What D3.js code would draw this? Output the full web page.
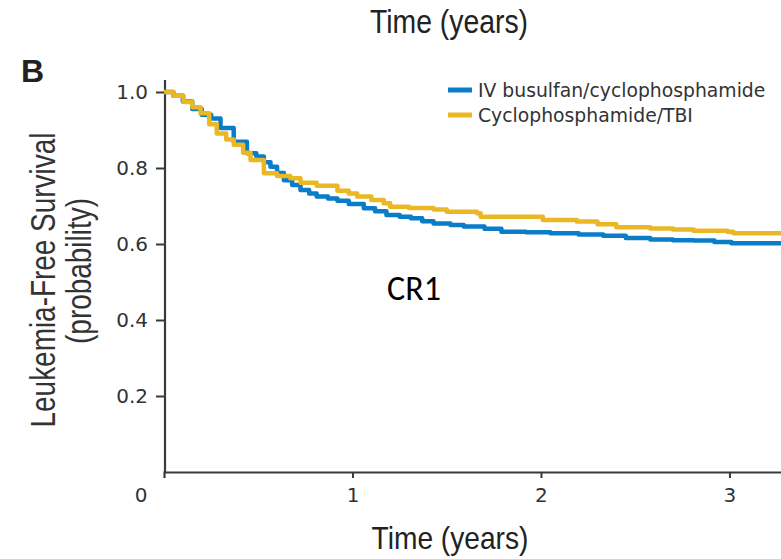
<!DOCTYPE html>
<html><head><meta charset="utf-8">
<script src="https://cdn.jsdelivr.net/npm/d3@7"></script>
<style>body{margin:0;background:#fff}svg{display:block}</style>
</head><body>
<svg id="c" width="781" height="559"></svg>
<script>
const busulfanTimes = [0,0.05,0.10,0.15,0.20,0.25,0.30,0.37,0.44,0.49,0.53,0.565,0.60,0.636,0.68,0.724,0.77,0.81,0.87,0.92,0.98,1.06,1.12,1.18,1.25,1.31,1.37,1.43,1.52,1.59,1.70,1.79,1.92,2.05,2.20,2.33,2.45,2.58,2.70,2.81,2.92,3.01,3.30];
const busulfanValues = [1.0,0.99,0.975,0.955,0.94,0.93,0.905,0.869,0.839,0.83,0.815,0.803,0.787,0.768,0.755,0.742,0.733,0.725,0.72,0.714,0.705,0.694,0.686,0.676,0.672,0.668,0.66,0.654,0.65,0.646,0.64,0.632,0.631,0.628,0.625,0.622,0.616,0.612,0.61,0.609,0.605,0.602,0.602];
const tbiTimes = [0,0.05,0.104,0.15,0.194,0.24,0.28,0.33,0.37,0.42,0.459,0.53,0.60,0.67,0.724,0.81,0.92,0.98,1.025,1.10,1.166,1.20,1.30,1.43,1.50,1.66,1.68,1.87,2.01,2.19,2.30,2.40,2.58,2.70,2.81,2.99,3.02,3.30];
const tbiValues = [1.0,0.99,0.974,0.96,0.944,0.915,0.891,0.875,0.861,0.84,0.821,0.786,0.779,0.773,0.761,0.753,0.740,0.733,0.725,0.716,0.707,0.698,0.695,0.691,0.685,0.681,0.672,0.672,0.663,0.659,0.652,0.644,0.641,0.638,0.635,0.632,0.628,0.626];
const xTicks = [0,1,2,3];
const yTicks = [0.2,0.4,0.6,0.8,1.0];
const seriesNames = ["IV busulfan/cyclophosphamide","Cyclophosphamide/TBI"];
const colors = ["#0a7dc8","#e9b824"];

const svg = d3.select("#c");
const x = d3.scaleLinear().domain([0,3.3]).range([164,786]);
const y = d3.scaleLinear().domain([0,1]).range([472,92]);
const axisColor = "#3a3a3a";
const sans = "'Liberation Sans', Arial, sans-serif";
const wide = "'DejaVu Sans', sans-serif";

// axes
const gx = svg.append("g").attr("transform","translate(0,472)")
  .call(d3.axisBottom(x).tickValues(xTicks.slice(1)).tickSize(6).tickPadding(0).tickFormat(d3.format("d")));
gx.select(".domain").attr("stroke",axisColor).attr("stroke-width",2.2);
gx.selectAll(".tick line").attr("stroke",axisColor).attr("stroke-width",2);
gx.selectAll(".tick text").attr("fill","#333").attr("font-family",wide).attr("font-size",20).attr("y",30).attr("dy",0);
gx.append("text").attr("x",x(0)-23).attr("y",30).attr("text-anchor","middle")
  .attr("fill","#333").attr("font-family",wide).attr("font-size",20).text(String(xTicks[0]));

const gy = svg.append("g").attr("transform","translate(165,0)")
  .call(d3.axisLeft(y).tickValues(yTicks).tickSize(9).tickPadding(8).tickFormat(d3.format(".1f")));
gy.select(".domain").attr("d","M0,80V472").attr("stroke",axisColor).attr("stroke-width",2.2);
gy.selectAll(".tick line").attr("stroke",axisColor).attr("stroke-width",2);
gy.selectAll(".tick text").attr("fill","#333").attr("font-family",wide).attr("font-size",20);

// curves
const line = d3.line().x(d=>x(d[0])).y(d=>y(d[1])).curve(d3.curveStepAfter);
svg.append("clipPath").attr("id","cp").append("rect").attr("x",164).attr("y",0).attr("width",617).attr("height",472);
const data = [d3.zip(busulfanTimes,busulfanValues), d3.zip(tbiTimes,tbiValues)];
svg.append("g").attr("clip-path","url(#cp)").selectAll("path").data(data).join("path")
  .attr("d",line).attr("fill","none").attr("stroke",(d,i)=>colors[i]).attr("stroke-width",4.5)
  .attr("stroke-linejoin","round").attr("stroke-linecap","round");

// legend
const lg = svg.append("g");
seriesNames.forEach((n,i)=>{
  const yy = 90 + i*25;
  lg.append("line").attr("x1",448).attr("x2",472).attr("y1",yy).attr("y2",yy).attr("stroke",colors[i]).attr("stroke-width",5);
  lg.append("text").attr("x",478).attr("y",yy+7).attr("font-family",wide).attr("font-size",18.8).attr("fill","#333").text(n);
});

// texts
function condText(tx,ty,rot,size,sx,str,fill){
  svg.append("text").attr("transform",`translate(${tx},${ty}) rotate(${rot}) scale(${sx},1)`)
    .attr("text-anchor","middle").attr("font-family",sans).attr("font-size",size).attr("fill",fill).text(str);
}
condText(449,33,0,33,0.86,"Time (years)","#222");
condText(450,549,0,32,0.88,"Time (years)","#222");
condText(55,280,-90,34.5,0.81,"Leukemia-Free Survival","#333");
condText(91,271,-90,34.5,0.81,"(probability)","#333");
svg.append("text").attr("x",21).attr("y",82).attr("font-family",sans).attr("font-weight","bold").attr("font-size",32).attr("fill","#222").text("B");
svg.append("text").attr("x",414).attr("y",300).attr("text-anchor","middle").attr("font-family","Carlito, 'Open Sans', sans-serif").attr("font-size",34).attr("fill","#000").text("CR1");
</script>
</body></html>
